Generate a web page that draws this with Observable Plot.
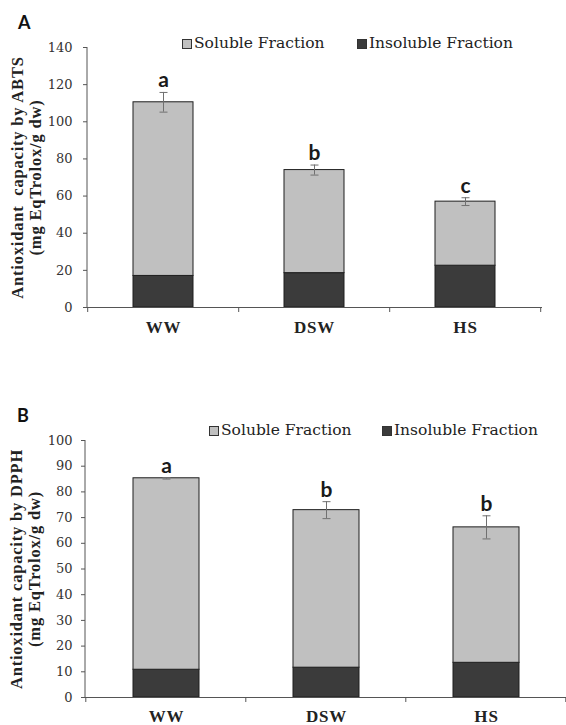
<!DOCTYPE html>
<html>
<head>
<meta charset="utf-8">
<script src="https://cdn.jsdelivr.net/npm/d3@7"></script>
<script src="https://cdn.jsdelivr.net/npm/@observablehq/plot@0.6"></script>
<style>
  html, body { margin: 0; padding: 0; background: #fff; overflow: hidden; }
  #wrap { position: relative; width: 566px; height: 725px; background: #fff; overflow: hidden; }
  .panel { position: absolute; left: 0; }
  .plabel { position: absolute; font-family: Lato, "Open Sans", sans-serif; font-weight: bold; font-size: 18px; color: #111; line-height: 1; }
  .legend { position: absolute; font-family: "DejaVu Serif", serif; font-size: 15.5px; color: #222; line-height: 1; white-space: nowrap; }
  .legend .item { position: absolute; top: 0; }
  .legend .sw { position: absolute; width: 8px; height: 8px; border: 1px solid #333; }
</style>
</head>
<body>
<div id="wrap">
  <div class="plabel" style="left:18px;top:13px">A</div>
  <div class="plabel" style="left:17px;top:406px">B</div>
  <div id="panelA" class="panel" style="top:0px"></div>
  <div id="panelB" class="panel" style="top:380px"></div>
  <div id="legendA" class="legend" style="left:0;top:36px"></div>
  <div id="legendB" class="legend" style="left:0;top:423px"></div>
</div>
<script>
// ---- data ----
const categories = ["WW", "DSW", "HS"];
const fractions = ["Soluble Fraction", "Insoluble Fraction"];
const fractionColors = ["#c0c0c0", "#3b3b3b"];

const abtsSoluble = [93.5, 55.5, 34.5];
const abtsInsoluble = [17, 18.5, 22.5];
const abtsError = [5.3, 2.7, 2.1];
const abtsLetters = ["a", "b", "c"];
const abtsTicks = [0, 20, 40, 60, 80, 100, 120, 140];
const abtsLabel = "Antioxidant  capacity by ABTS\n(mg EqTrolox/g dw)";

const dpphSoluble = [74.5, 61.3, 52.7];
const dpphInsoluble = [10.8, 11.6, 13.5];
const dpphError = [0.3, 3.3, 4.5];
const dpphLetters = ["a", "b", "b"];
const dpphTicks = [0, 10, 20, 30, 40, 50, 60, 70, 80, 90, 100];
const dpphLabel = "Antioxidant capacity by DPPH\n(mg EqTrolox/g dw)";

const serif = "'Liberation Serif', 'Times New Roman', 'DejaVu Serif', serif";
const tickFont = "'DejaVu Serif', serif";

const capSymbol = {
  draw(ctx, size) {
    const w = Math.sqrt(size / Math.PI);
    ctx.moveTo(-w, 0);
    ctx.lineTo(w, 0);
  }
};

function axesDecor(pIn) {
  return (index, scales, values, dims) => {
    const x = scales.x, y = scales.y;
    const g = d3.create("svg:g").attr("stroke", "#555").attr("stroke-width", 1).attr("fill", "none");
    const x0 = x(categories[0]), x1 = x(categories[1]);
    const step = (typeof x.step === "function") ? x.step() : (x1 - x0);
    const yb = y(0);
    g.append("line").attr("x1", dims.marginLeft).attr("x2", dims.marginLeft)
      .attr("y1", dims.marginTop).attr("y2", yb);
    const bounds = categories.map(c => x(c) - pIn * step / 2);
    bounds.push(bounds[bounds.length - 1] + step);
    for (const b of bounds) {
      g.append("line").attr("x1", b).attr("x2", b).attr("y1", yb).attr("y2", yb + 5);
    }
    return g.node();
  };
}

function makePanel(cfg) {
  const rows = [];
  const totals = [];
  const caps = [];
  categories.forEach((c, i) => {
    rows.push({cat: c, fraction: "Insoluble Fraction", value: cfg.insoluble[i]});
    rows.push({cat: c, fraction: "Soluble Fraction", value: cfg.soluble[i]});
    const t = cfg.insoluble[i] + cfg.soluble[i];
    totals.push({cat: c, total: t, err: cfg.error[i], letter: cfg.letters[i]});
    caps.push({cat: c, v: t + cfg.error[i]});
    caps.push({cat: c, v: t - cfg.error[i]});
  });
  const plot = Plot.plot({
    width: cfg.width, height: cfg.height,
    marginLeft: cfg.ml, marginRight: cfg.mr, marginTop: cfg.mt, marginBottom: cfg.mb,
    style: {fontFamily: serif, fontSize: "14px", color: "#333", background: "transparent", overflow: "visible"},
    x: {domain: categories, paddingInner: cfg.pIn, paddingOuter: cfg.pIn / 2, axis: null},
    y: {domain: [0, cfg.yMax], axis: null},
    color: {domain: fractions, range: fractionColors},
    marks: [
      Plot.barY(rows, {x: "cat", y: "value", fill: "fraction", stroke: "#1e1e1e", strokeWidth: 1}),
      Plot.ruleY([0], {stroke: "#555"}),
      axesDecor(cfg.pIn),
      Plot.ruleX(totals, {x: "cat", y1: d => d.total - d.err, y2: d => d.total + d.err, stroke: "#707070", strokeWidth: 1}),
      Plot.dot(caps, {x: "cat", y: "v", symbol: capSymbol, r: 4, stroke: "#707070", fill: "none", strokeWidth: 1}),
      Plot.text(totals, {x: "cat", y: d => d.total + d.err, text: "letter", dy: -5, lineAnchor: "bottom",
        fontFamily: "Lato, 'Open Sans', sans-serif", fontWeight: "bold", fontSize: 21, fill: "#1a1a1a"}),
      Plot.axisY({ticks: cfg.ticks, tickSize: 4, tickPadding: cfg.tp, label: null, stroke: "#555", fill: "#333",
        fontFamily: tickFont, fontSize: 13}),
      Plot.axisX({tickSize: 0, tickPadding: cfg.xtp, label: null, fontWeight: "bold", fontSize: 17, fill: "#222",
        fontFamily: serif}),
      Plot.text([cfg.label], {frameAnchor: "left", textAnchor: "middle", lineAnchor: "middle", rotate: -90,
        dx: cfg.ldx, lineHeight: 1.1, text: d => d,
        fontFamily: serif, fontWeight: "bold", fontSize: 16.5, fill: "#222"})
    ]
  });
  d3.select(plot).selectAll('g[aria-label="x-axis tick label"] text').style("letter-spacing", "0.8px");
  d3.select(plot).selectAll('g[aria-label="text"]:last-of-type text').style("letter-spacing", "0.8px");
  return plot;
}

const plotA = makePanel({
  soluble: abtsSoluble, insoluble: abtsInsoluble, error: abtsError, letters: abtsLetters,
  ticks: abtsTicks, yMax: 140, label: abtsLabel,
  width: 566, height: 380, ml: 87, mr: 24, mt: 47, mb: 73, pIn: 0.6, tp: 11, xtp: 13, ldx: -61
});
document.getElementById("panelA").appendChild(plotA);

const plotB = makePanel({
  soluble: dpphSoluble, insoluble: dpphInsoluble, error: dpphError, letters: dpphLetters,
  ticks: dpphTicks, yMax: 100, label: dpphLabel,
  width: 566, height: 345, ml: 85, mr: 0, mt: 60, mb: 28, pIn: 0.59, tp: 9, xtp: 12, ldx: -60
});
document.getElementById("panelB").appendChild(plotB);

function legend(id, pos) {
  const el = document.getElementById(id);
  fractions.forEach((f, i) => {
    const item = document.createElement("div");
    item.className = "item";
    item.style.left = pos[i] + "px";
    const sw = document.createElement("div");
    sw.className = "sw";
    sw.style.left = "0px";
    sw.style.top = "3px";
    sw.style.background = fractionColors[i];
    const tx = document.createElement("span");
    tx.textContent = f;
    tx.style.position = "absolute";
    tx.style.left = "12px";
    tx.style.top = "0px";
    item.appendChild(sw);
    item.appendChild(tx);
    el.appendChild(item);
  });
}
legend("legendA", [182, 357]);
legend("legendB", [209, 382]);
</script>
</body>
</html>
